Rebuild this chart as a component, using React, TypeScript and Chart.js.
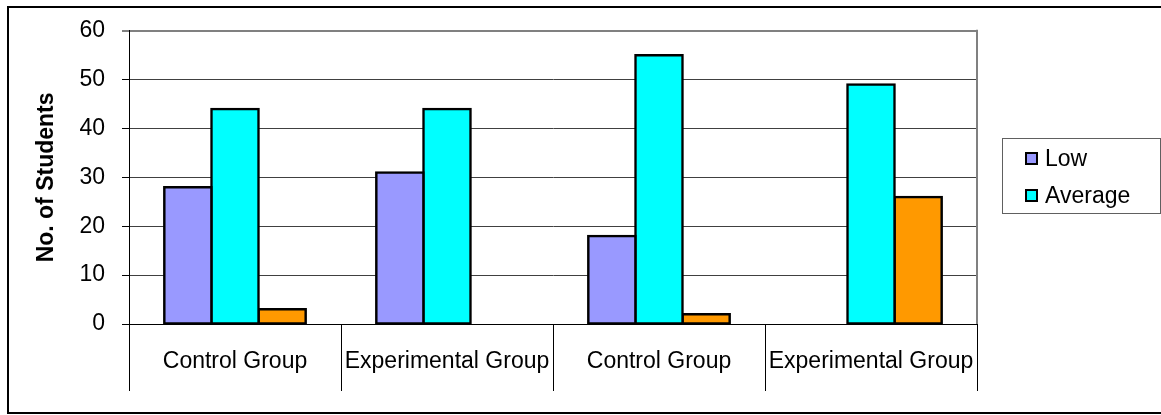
import React, { useEffect, useRef } from "react";
import { Chart, registerables } from "chart.js";

Chart.register(...registerables);

// Student counts per group
const categories = ["Control Group", "Experimental Group", "Control Group", "Experimental Group"];
const lowValues = [28, 31, 18, 0];
const averageValues = [44, 44, 55, 49];
const highValues = [3, 0, 2, 26];

// Value axis
const yMin = 0;
const yMax = 60;
const yStep = 10;

const yAxisTitle = "No. of Students";

const FONT = "Arial, 'Liberation Sans', sans-serif";
const FONT_SIZE = 23;

const WIDTH = 1161;
const HEIGHT = 415;

// Frame, category dividers, plot-area edge and boxed legend
const framePlugin = {
  id: "frame",
  beforeDraw(chart: any) {
    const { ctx } = chart;
    ctx.save();
    ctx.fillStyle = "#ffffff";
    ctx.fillRect(0, 0, chart.width, chart.height);
    ctx.restore();
  },
  afterDraw(chart: any) {
    const { ctx, chartArea } = chart;
    const xScale = chart.scales.x;
    ctx.save();

    // outer chart border (runs off the right edge)
    ctx.strokeStyle = "#000000";
    ctx.lineWidth = 2;
    ctx.strokeRect(8, 7, chart.width + 20, chart.height - 9);

    // category dividers below the axis
    const n = xScale.ticks.length;
    const edges: number[] = [chartArea.left];
    for (let i = 0; i < n - 1; i++) {
      edges.push((xScale.getPixelForTick(i) + xScale.getPixelForTick(i + 1)) / 2);
    }
    edges.push(chartArea.right);
    ctx.strokeStyle = "#000000";
    ctx.lineWidth = 1;
    ctx.beginPath();
    edges.forEach((x) => {
      const px = Math.round(x) + 0.5;
      ctx.moveTo(px, chartArea.bottom);
      ctx.lineTo(px, chartArea.bottom + 67);
    });
    ctx.stroke();

    // right edge of the plot area
    ctx.strokeStyle = "#808080";
    ctx.lineWidth = 2;
    ctx.beginPath();
    ctx.moveTo(chartArea.right, chartArea.top - 1);
    ctx.lineTo(chartArea.right, chartArea.bottom);
    ctx.stroke();

    // legend
    const items = chart.data.datasets.filter((d: any) => d.showInLegend !== false);
    const rowGap = 37.5;
    const centerY = (chartArea.top + chartArea.bottom) / 2 + 0.25;
    const boxLeft = chartArea.right + 25;
    const boxRight = chart.width - 1.5;
    const boxTop = centerY - rowGap / 2 - 20.5;
    const boxBottom = centerY + rowGap / 2 + 17;

    ctx.strokeStyle = "#606060";
    ctx.lineWidth = 1;
    ctx.strokeRect(Math.round(boxLeft) + 0.5, Math.round(boxTop) + 0.5, Math.round(boxRight - boxLeft), Math.round(boxBottom - boxTop));

    ctx.font = `${FONT_SIZE}px ${FONT}`;
    ctx.textBaseline = "middle";
    ctx.textAlign = "left";
    items.forEach((d: any, i: number) => {
      const cy = Math.round(centerY - rowGap / 2 + i * rowGap);
      const mx = Math.round(boxLeft + 23);
      ctx.fillStyle = d.backgroundColor;
      ctx.fillRect(mx, cy - 7, 13, 13);
      ctx.strokeStyle = "#000000";
      ctx.lineWidth = 2;
      ctx.strokeRect(mx + 1, cy - 6, 11, 11);
      ctx.fillStyle = "#000000";
      ctx.fillText(d.label, mx + 20, cy + 1);
    });

    ctx.restore();
  },
};

export default function App() {
  const canvasRef = useRef<HTMLCanvasElement | null>(null);

  useEffect(() => {
    if (!canvasRef.current) return;
    Chart.defaults.font.family = FONT;
    Chart.defaults.color = "#000000";

    const barStyle = {
      borderColor: "#000000",
      borderWidth: 2.5,
      borderSkipped: false,
      inflateAmount: (c: any) => (c.raw === 0 ? 0 : 1.25),
    };

    const chart = new Chart(canvasRef.current, {
      type: "bar",
      data: {
        labels: categories,
        datasets: [
          { label: "Low", data: lowValues, backgroundColor: "#9999FF", ...barStyle } as any,
          { label: "Average", data: averageValues, backgroundColor: "#00FFFF", ...barStyle } as any,
          { label: "High", data: highValues, backgroundColor: "#FF9900", ...barStyle, showInLegend: false } as any,
        ],
      },
      options: {
        responsive: false,
        devicePixelRatio: 1,
        animation: false,
        datasets: {
          bar: {
            categoryPercentage: 0.667,
            barPercentage: 1,
          },
        },
        layout: {
          padding: { left: 10, top: 28, right: 184, bottom: 24 },
        },
        plugins: {
          legend: { display: false },
          tooltip: { enabled: false },
          title: { display: false },
        },
        scales: {
          x: {
            offset: true,
            border: { display: true, color: "#000000", width: 1 },
            grid: {
              display: false,
              drawTicks: false,
            },
            ticks: {
              autoSkip: false,
              maxRotation: 0,
              minRotation: 0,
              padding: 24,
              font: { size: FONT_SIZE, family: FONT },
              color: "#000000",
            },
            afterFit: (scale: any) => {
              scale.height = 67;
            },
          },
          y: {
            min: yMin,
            max: yMax,
            border: { display: true, color: "#000000", width: 1 },
            grid: {
              drawTicks: true,
              tickLength: 7,
              tickColor: "#000000",
              tickWidth: 1,
              color: (c: any) => (c.tick && c.tick.value === yMax ? "#808080" : "#404040"),
              lineWidth: (c: any) => (c.tick && c.tick.value === yMax ? 2 : 1),
            },
            ticks: {
              stepSize: yStep,
              padding: 17,
              font: { size: FONT_SIZE, family: FONT },
              color: "#000000",
            },
            title: {
              display: true,
              text: yAxisTitle,
              font: { size: FONT_SIZE, weight: "bold", family: FONT },
              color: "#000000",
              padding: { top: 23, bottom: 18 },
            },
            afterFit: (scale: any) => {
              scale.width = 119;
            },
          },
        },
      },
      plugins: [framePlugin],
    });

    return () => chart.destroy();
  }, []);

  return (
    <div style={{ position: "absolute", left: 0, top: 0, width: WIDTH, height: HEIGHT, background: "#fff" }}>
      <canvas
        ref={canvasRef}
        width={WIDTH}
        height={HEIGHT}
        style={{ width: `${WIDTH}px`, height: `${HEIGHT}px`, display: "block" }}
      />
    </div>
  );
}
